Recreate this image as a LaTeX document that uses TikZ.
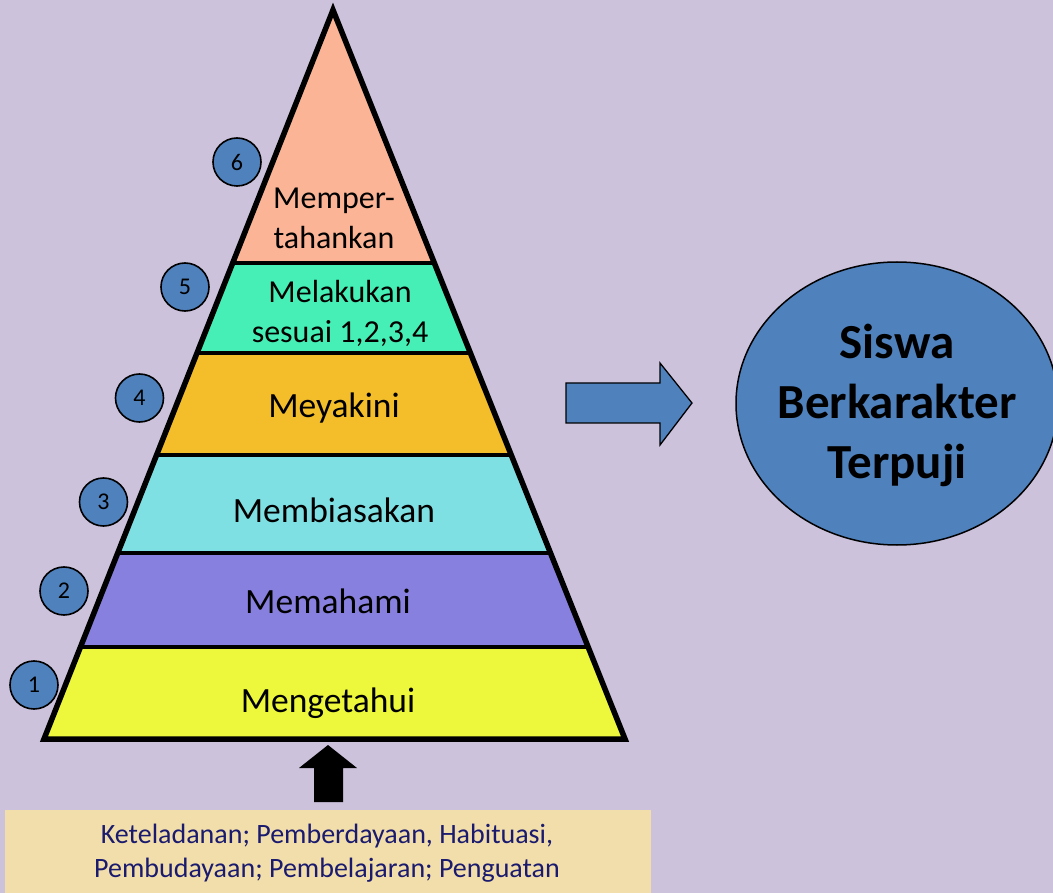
\documentclass[tikz,border=0pt]{standalone}
\usepackage{fontspec}
\usetikzlibrary{shapes.geometric}
\setmainfont{Carlito}
\definecolor{bg}{HTML}{CCC2DC}
\definecolor{cSix}{HTML}{FBB596}
\definecolor{cFive}{HTML}{45EFB5}
\definecolor{cFour}{HTML}{F4BE2B}
\definecolor{cThree}{HTML}{7FE0E3}
\definecolor{cTwo}{HTML}{8780DE}
\definecolor{cOne}{HTML}{EDF83C}
\definecolor{oblue}{HTML}{4F81BD}
\definecolor{boxfill}{HTML}{F2DEAB}
\definecolor{navy}{HTML}{1A1A6E}
\begin{document}
\begin{tikzpicture}[x=1pt,y=-1pt,
  numcirc/.style={circle,draw=black,line width=1.6pt,fill=oblue,minimum size=48pt,inner sep=0pt,font=\fontsize{24}{24}\selectfont},
  bigtxt/.style={align=center,font=\fontsize{35.5}{40}\selectfont},
  smalltxt/.style={align=center,font=\fontsize{32}{40}\selectfont},
  sep/.style={line width=4pt},
]
\fill[bg] (0,0) rectangle (1053,893);
\useasboundingbox (0,0) rectangle (1053,893);
% bands
\fill[cSix] (333,10) -- (434.3,263) -- (232.7,263) -- cycle;
\fill[cFive] (232.7,263) -- (434.3,263) -- (470.4,353) -- (197.0,353) -- cycle;
\fill[cFour] (197.0,353) -- (470.4,353) -- (511.2,455) -- (156.6,455) -- cycle;
\fill[cThree] (156.6,455) -- (511.2,455) -- (550.5,553) -- (117.7,553) -- cycle;
\fill[cTwo] (117.7,553) -- (550.5,553) -- (588.2,647) -- (80.5,647) -- cycle;
\fill[cOne] (80.5,647) -- (588.2,647) -- (625,739) -- (44,739) -- cycle;
\draw[sep] (232.7,263) -- (434.3,263);
\draw[sep] (197.0,353) -- (470.4,353);
\draw[sep] (156.6,455) -- (511.2,455);
\draw[sep] (117.7,553) -- (550.5,553);
\draw[sep] (80.5,647) -- (588.2,647);
\draw[line width=5.5pt,line join=miter] (333,10) -- (625,739) -- (44,739) -- cycle;
% band labels
\node[smalltxt] (t6) at (334,218) {Memper-\\tahankan};
\node[smalltxt] (t5) at (340,313) {Melakukan\\sesuai 1,2,3,4};
\node[bigtxt] (t4) at (334,408) {Meyakini};
\node[bigtxt] (t3) at (334,510) {Membiasakan};
\node[bigtxt] (t2) at (328,601) {Memahami};
\node[bigtxt] (t1) at (328,703) {Mengetahui};
% number circles
\node[numcirc] (n6) at (237,162) {6};
\node[numcirc] (n5) at (185,287) {5};
\node[numcirc] (n4) at (139.5,398) {4};
\node[numcirc] (n3) at (103.5,502) {3};
\node[numcirc] (n2) at (64,591) {2};
\node[numcirc] (n1) at (34,685) {1};
% right arrow
\draw[fill=oblue,line width=1.3pt,line join=miter] (566,383) -- (660,383) -- (660,363) -- (692,403) -- (660,445) -- (660,423) -- (566,423) -- cycle;
% result ellipse
\node[ellipse,draw=black,line width=1.5pt,fill=oblue,minimum width=322pt,minimum height=283pt,inner sep=0pt] (res) at (897,403.5) {};
\node[align=center,font=\fontsize{49}{60}\selectfont\bfseries] (restxt) at (897,405) {Siswa\\Berkarakter\\Terpuji};
% bottom box
\fill[boxfill] (5,810) rectangle (651,893);
\node[align=center,text=navy,font=\fontsize{28}{34}\selectfont] (base) at (327,853) {Keteladanan; Pemberdayaan, Habituasi,\\Pembudayaan; Pembelajaran; Penguatan};
% up arrow
\fill[black] (314,802) -- (314,768) -- (299,768) -- (328,745) -- (357,768) -- (343,768) -- (343,802) -- cycle;
\end{tikzpicture}
\end{document}
